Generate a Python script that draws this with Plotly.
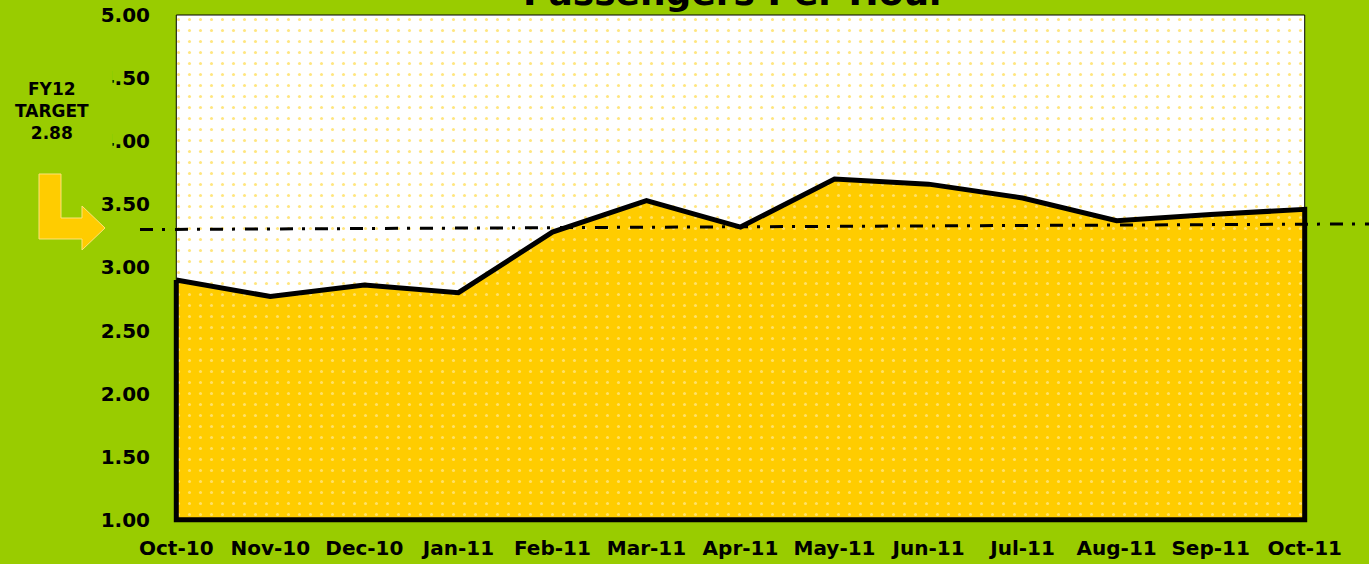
import plotly.graph_objects as go

# ---- data ----
months = ["Oct-10", "Nov-10", "Dec-10", "Jan-11", "Feb-11", "Mar-11", "Apr-11",
          "May-11", "Jun-11", "Jul-11", "Aug-11", "Sep-11", "Oct-11"]
passengers_per_hour = [2.90, 2.77, 2.86, 2.80, 3.28, 3.53, 3.32,
                       3.70, 3.66, 3.55, 3.37, 3.42, 3.46]
target_line_start = 3.30   # dash-dot target line, left end
target_line_end = 3.345    # right end (drawn slightly tilted in source)
y_min, y_max, y_step = 1.0, 5.0, 0.5
title_text = "Passengers Per Hour"
target_label = "FY12<br>TARGET<br>2.88"

# ---- style / layout constants ----
GREEN = "#99cc00"
YELLOW = "#ffcc00"
FONT = "DejaVu Sans"
W, H = 1369, 564
ML, MR, MT, MB = 173, 61, 14, 41
PW, PH = W - ML - MR, H - MT - MB


def px2x(px):
    return (px - ML) / PW


def py2y(py):
    return (H - MB - py) / PH


fig = go.Figure()

# dotted plot-area background
fig.add_trace(go.Scatter(
    x=[months[0], months[-1], months[-1], months[0], months[0]],
    y=[y_min, y_min, y_max, y_max, y_min],
    fill="toself", fillcolor="white", mode="lines",
    line=dict(color="black", width=1),
    fillpattern=dict(shape=".", fgcolor="#ffcc00", bgcolor="white",
                     size=11, solidity=0.06),
    hoverinfo="skip", showlegend=False,
))

# yellow area with thick black outline
fig.add_trace(go.Scatter(
    x=months + [months[-1], months[0], months[0]],
    y=passengers_per_hour + [y_min, y_min, passengers_per_hour[0]],
    fill="toself", fillcolor=YELLOW, mode="lines",
    line=dict(color="black", width=5),
    fillpattern=dict(shape=".", fgcolor="#fff6d0", bgcolor=YELLOW,
                     size=11, solidity=0.06),
    showlegend=False,
))

# target dash-dot line
fig.add_shape(type="line", xref="paper", yref="y",
              x0=px2x(140), x1=px2x(W), y0=target_line_start, y1=target_line_end,
              line=dict(color="black", width=3, dash="13px,9px,3px,10px"))

# L-shaped arrow
pts = [(39, 174), (61, 174), (61, 218), (82, 218), (82, 206), (105, 228),
       (82, 250), (82, 239), (39, 239)]
path = "M " + " L ".join(f"{px2x(a):.5f},{py2y(b):.5f}" for a, b in pts) + " Z"
fig.add_shape(type="path", xref="paper", yref="paper", path=path,
              fillcolor=YELLOW, line=dict(color="#ffe27a", width=1))

# target label (covers part of tick labels as in source)
fig.add_annotation(xref="paper", yref="paper", x=px2x(52), y=py2y(111),
                   xanchor="center", yanchor="middle",
                   text=target_label, showarrow=False, width=118, height=84,
                   bgcolor=GREEN, align="center",
                   font=dict(family=FONT, size=17, color="black", weight="bold"))

# clipped title at the top
fig.add_annotation(xref="paper", yref="paper", x=px2x(735), y=1,
                   xanchor="center", yanchor="bottom", yshift=-1,
                   text=title_text, showarrow=False,
                   font=dict(family=FONT, size=36, color="black", weight="bold"))

yticks = [y_min + i * y_step for i in range(int((y_max - y_min) / y_step) + 1)]

fig.update_layout(
    width=W, height=H,
    margin=dict(l=ML, r=MR, t=MT, b=MB),
    paper_bgcolor=GREEN, plot_bgcolor=GREEN,
    showlegend=False,
    xaxis=dict(type="category", categoryorder="array", categoryarray=months,
               range=[-0.035, len(months) - 1 + 0.035], automargin=False,
               showgrid=False, zeroline=False, showline=False,
               ticks="", ticklabelstandoff=11,
               tickfont=dict(family=FONT, size=20, color="black", weight="bold")),
    yaxis=dict(range=[y_min - 0.025, y_max + 0.008], automargin=False,
               tickvals=yticks, tickformat=".2f",
               showgrid=False, zeroline=False, showline=False,
               ticks="", ticklabelstandoff=22,
               tickfont=dict(family=FONT, size=20, color="black", weight="bold")),
)

fig.write_html("out.html", config={"displayModeBar": False},
               post_script="document.body.style.margin='0';document.body.style.overflow='hidden';")
